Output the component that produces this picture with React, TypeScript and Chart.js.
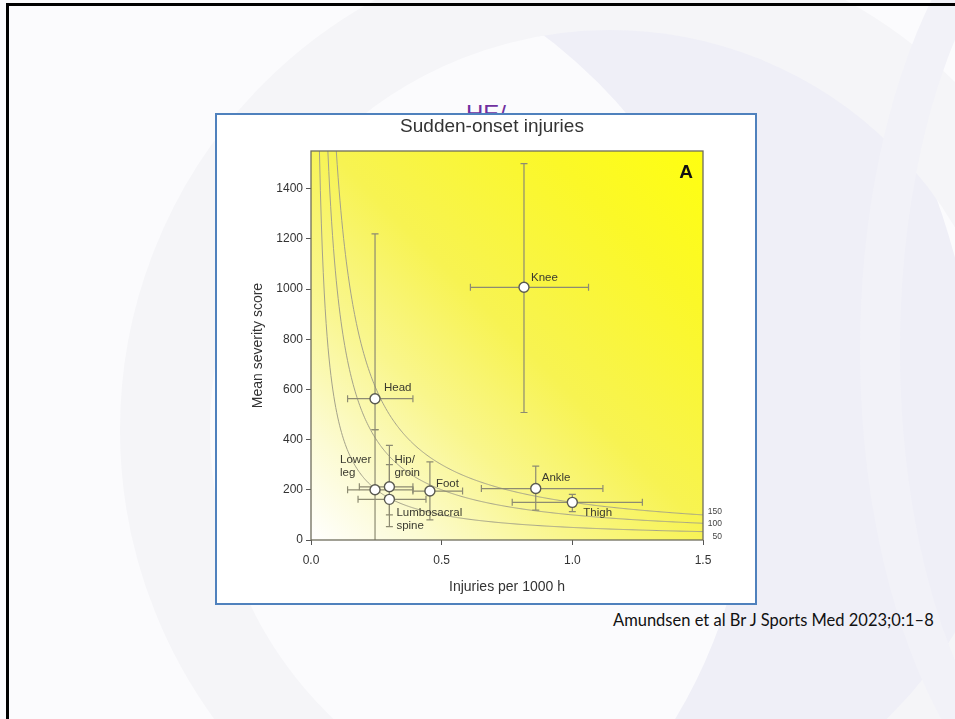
import React, { useEffect, useRef } from "react";
import { Chart, registerables } from "chart.js";

Chart.register(...registerables);

// ---- data ----
const REGIONS = ["Knee", "Head", "Lower leg", "Hip/groin", "Foot", "Lumbosacral spine", "Ankle", "Thigh"];
const INCIDENCE = [0.815, 0.245, 0.245, 0.3, 0.455, 0.3, 0.86, 1.0];
const SEVERITY = [1007, 563, 200, 212, 195, 162, 205, 150];
const INCIDENCE_LOW = [0.61, 0.14, 0.14, 0.185, 0.39, 0.18, 0.652, 0.77];
const INCIDENCE_HIGH = [1.062, 0.39, 0.39, 0.39, 0.58, 0.44, 1.117, 1.268];
const SEVERITY_LOW = [508, 440, 0, 100, 80, 53, 119, 113];
const SEVERITY_HIGH = [1500, 1220, 440, 377, 311, 300, 294, 182];
const BURDEN_LEVELS = [150, 100, 50];
const X_TICKS = [0, 0.5, 1.0, 1.5];
const Y_TICKS = [0, 200, 400, 600, 800, 1000, 1200, 1400];
const X_MAX = 1.5;
const Y_MAX = 1550;

// label text lines for each point and their offsets (px, relative to the point)
const LABEL_LINES = [["Knee"], ["Head"], ["Lower", "leg"], ["Hip/", "groin"], ["Foot"], ["Lumbosacral", "spine"], ["Ankle"], ["Thigh"]];
const LABEL_OFFSETS = [
  [7, -9], [9, -11], [-35, -30], [5, -27], [6, -7], [7, 13], [6, -11], [11, 10],
];
const BURDEN_LABEL_DY = [-3, 0, 5];

const FONT = "'Liberation Sans', Arial, sans-serif";
const ERR_COLOR = "#8d8b72";
const CURVE_COLOR = "#a4a28a";

const overlay = {
  id: "overlay",
  beforeDraw(chart: any) {
    const { ctx, chartArea: a } = chart;
    ctx.save();
    const g = ctx.createLinearGradient(a.left, a.bottom, a.right, a.top);
    g.addColorStop(0, "#ffffff");
    g.addColorStop(0.14, "#fcfbd4");
    g.addColorStop(0.33, "#f9f68c");
    g.addColorStop(0.52, "#f7f352");
    g.addColorStop(0.8, "#fbf828");
    g.addColorStop(1, "#ffff10");
    ctx.fillStyle = g;
    ctx.fillRect(a.left, a.top, a.right - a.left, a.bottom - a.top);
    ctx.restore();
  },
  beforeDatasetsDraw(chart: any) {
    const { ctx, chartArea: a } = chart;
    const xs = chart.scales.x;
    const ys = chart.scales.y;
    ctx.save();
    ctx.beginPath();
    ctx.rect(a.left, a.top, a.right - a.left, a.bottom - a.top);
    ctx.clip();
    // iso-burden curves
    ctx.strokeStyle = CURVE_COLOR;
    ctx.lineWidth = 1;
    BURDEN_LEVELS.forEach((b) => {
      ctx.beginPath();
      const x0 = b / Y_MAX;
      const n = 400;
      for (let i = 0; i <= n; i++) {
        const xv = x0 + ((X_MAX - x0) * i) / n;
        const px = xs.getPixelForValue(xv);
        const py = ys.getPixelForValue(b / xv);
        if (i === 0) ctx.moveTo(px, py);
        else ctx.lineTo(px, py);
      }
      ctx.stroke();
    });
    // error bars
    ctx.strokeStyle = ERR_COLOR;
    ctx.lineWidth = 1.2;
    const cap = 3.5;
    INCIDENCE.forEach((xv, i) => {
      const px = xs.getPixelForValue(xv);
      const py = ys.getPixelForValue(SEVERITY[i]);
      const xl = xs.getPixelForValue(INCIDENCE_LOW[i]);
      const xh = xs.getPixelForValue(INCIDENCE_HIGH[i]);
      const yl = ys.getPixelForValue(SEVERITY_LOW[i]);
      const yh = ys.getPixelForValue(SEVERITY_HIGH[i]);
      ctx.beginPath();
      ctx.moveTo(xl, py); ctx.lineTo(xh, py);
      ctx.moveTo(xl, py - cap); ctx.lineTo(xl, py + cap);
      ctx.moveTo(xh, py - cap); ctx.lineTo(xh, py + cap);
      ctx.moveTo(px, yl); ctx.lineTo(px, yh);
      ctx.moveTo(px - cap, yh); ctx.lineTo(px + cap, yh);
      if (SEVERITY_LOW[i] > 0) { ctx.moveTo(px - cap, yl); ctx.lineTo(px + cap, yl); }
      ctx.stroke();
    });
    ctx.restore();
  },
  afterDraw(chart: any) {
    const { ctx, chartArea: a } = chart;
    const xs = chart.scales.x;
    const ys = chart.scales.y;
    ctx.save();
    // frame
    ctx.strokeStyle = "#6f6d5c";
    ctx.lineWidth = 1.3;
    ctx.strokeRect(a.left, a.top, a.right - a.left, a.bottom - a.top);
    // point labels
    ctx.fillStyle = "#3a3a30";
    ctx.font = `11.5px ${FONT}`;
    ctx.textAlign = "left";
    ctx.textBaseline = "middle";
    LABEL_LINES.forEach((lines, i) => {
      const px = xs.getPixelForValue(INCIDENCE[i]);
      const py = ys.getPixelForValue(SEVERITY[i]);
      lines.forEach((t, k) => {
        ctx.fillText(t, px + LABEL_OFFSETS[i][0], py + LABEL_OFFSETS[i][1] + k * 13.5);
      });
    });
    // burden labels
    ctx.font = `8.5px ${FONT}`;
    ctx.textAlign = "right";
    ctx.fillStyle = "#444";
    BURDEN_LEVELS.forEach((b, i) => {
      const py = ys.getPixelForValue(b / X_MAX);
      ctx.fillText(String(b), a.right + 19, py + BURDEN_LABEL_DY[i]);
    });
    // panel letter
    ctx.font = `bold 19px ${FONT}`;
    ctx.textAlign = "center";
    ctx.fillStyle = "#111";
    ctx.fillText("A", a.right - 17, a.top + 22);
    // title
    ctx.font = `19px ${FONT}`;
    ctx.fillStyle = "#333";
    ctx.fillText("Sudden-onset injuries", 275, 12);
    // axis titles
    ctx.font = `14px ${FONT}`;
    ctx.fillStyle = "#333";
    ctx.fillText("Injuries per 1000 h", (a.left + a.right) / 2, 472);
    ctx.translate(41, (a.top + a.bottom) / 2);
    ctx.rotate(-Math.PI / 2);
    ctx.fillText("Mean severity score", 0, 0);
    ctx.restore();
  },
};

function SlideChart() {
  const ref = useRef<HTMLCanvasElement>(null);
  useEffect(() => {
    if (!ref.current) return;
    const chart = new Chart(ref.current, {
      type: "scatter",
      data: {
        datasets: [
          {
            label: "Sudden-onset injuries",
            data: INCIDENCE.map((x, i) => ({ x, y: SEVERITY[i] })),
            pointRadius: 5,
            pointBorderWidth: 1.4,
            pointBackgroundColor: "#ffffff",
            pointBorderColor: "#5a5a50",
          },
        ],
      },
      options: {
        animation: false,
        responsive: false,
        devicePixelRatio: 1,
        layout: { padding: { top: 36, right: 52, left: 0, bottom: 0 } },
        plugins: { legend: { display: false }, tooltip: { enabled: false }, title: { display: false } },
        scales: {
          x: {
            type: "linear",
            min: 0,
            max: X_MAX,
            afterBuildTicks: (s: any) => { s.ticks = X_TICKS.map((v) => ({ value: v })); },
            afterFit: (s: any) => { s.height = 63; },
            ticks: { callback: (v: any) => Number(v).toFixed(1), font: { family: FONT, size: 12 }, color: "#333", padding: 8, maxRotation: 0 },
            grid: { display: true, drawOnChartArea: false, drawTicks: true, tickLength: 5, color: "#555" },
            border: { display: false },
          },
          y: {
            type: "linear",
            min: 0,
            max: Y_MAX,
            afterBuildTicks: (s: any) => { s.ticks = Y_TICKS.map((v) => ({ value: v })); },
            afterFit: (s: any) => { s.width = 94; },
            ticks: { callback: (v: any) => String(v), font: { family: FONT, size: 12 }, color: "#333", padding: 3 },
            grid: { display: true, drawOnChartArea: false, drawTicks: true, tickLength: 5, color: "#555" },
            border: { display: false },
          },
        },
      },
      plugins: [overlay],
    });
    return () => chart.destroy();
  }, []);
  return <canvas ref={ref} width={538} height={488} style={{ display: "block", width: 538, height: 488 }} />;
}

export default function App() {
  return (
    <div style={{ position: "fixed", left: 0, top: 0, width: 955, height: 719, overflow: "hidden", background: "#fbfbfd", fontFamily: FONT }}>
      {/* decorative slide background */}
      <div style={{ position: "absolute", left: -520, top: -300, width: 1500, height: 1500, borderRadius: "50%", border: "230px solid #efeff7", boxSizing: "border-box" }} />
      <div style={{ position: "absolute", left: 120, top: -60, width: 980, height: 980, borderRadius: "50%", border: "90px solid #f5f5f8", boxSizing: "border-box" }} />
      <div style={{ position: "absolute", left: 860, top: -150, width: 500, height: 1000, borderRadius: "50%", border: "40px solid #f2f2f8", boxSizing: "border-box" }} />
      {/* slide frame */}
      <div style={{ position: "absolute", left: 6, top: 3, width: 1000, height: 800, borderLeft: "3px solid #000", borderTop: "3px solid #000" }} />
      {/* partially hidden heading */}
      <div style={{ position: "absolute", left: 466, top: 102, fontSize: 24, color: "#7030a0", fontFamily: FONT, lineHeight: "24px" }}>HE/</div>
      {/* chart box */}
      <div style={{ position: "absolute", left: 215, top: 113, width: 542, height: 492, boxSizing: "border-box", border: "2px solid #4f81bd", background: "#ffffff" }}>
        <SlideChart />
      </div>
      <div style={{ position: "absolute", left: 613, top: 610, fontSize: 16.5, color: "#111", fontFamily: "Lato, 'Open Sans', sans-serif", whiteSpace: "nowrap" }}>
        Amundsen et al Br J Sports Med 2023;0:1–8
      </div>
    </div>
  );
}
